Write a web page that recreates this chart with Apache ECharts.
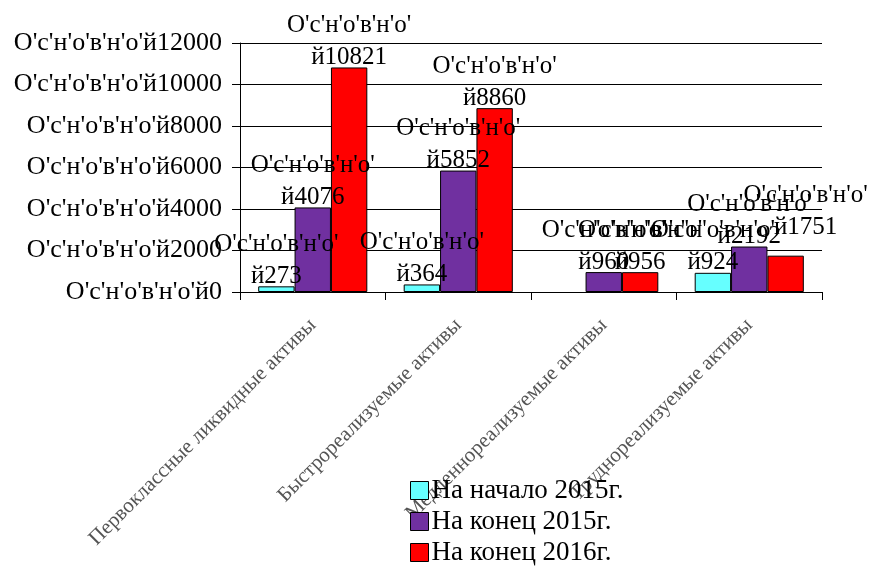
<!DOCTYPE html>
<html>
<head>
<meta charset="utf-8">
<script src="https://cdn.jsdelivr.net/npm/echarts@6/dist/echarts.min.js"></script>
<style>
html,body{margin:0;padding:0;background:#fff;}
#chart{width:872px;height:566px;}
</style>
</head>
<body>
<div id="chart"></div>
<script>
var categories = ['Первоклассные ликвидные активы', 'Быстрореализуемые активы', 'Медленнореализуемые активы', 'Труднореализуемые активы'];
var seriesNames = ['На начало 2015г.', 'На конец 2015г.', 'На конец 2016г.'];
var valuesStart2015 = [273, 364, '-', 924];
var valuesEnd2015 = [4076, 5852, 960, 2192];
var valuesEnd2016 = [10821, 8860, 956, 1751];
var seriesColors = ['#66FFFF', '#7030A0', '#FF0000'];
var yTicks = [0, 2000, 4000, 6000, 8000, 10000, 12000];
var prefix = "O'c'н'o'в'н'o'";

var FONT = '"Liberation Serif", "DejaVu Serif", serif';
var chart = echarts.init(document.getElementById('chart'));
var allValues = [valuesStart2015, valuesEnd2015, valuesEnd2016];
var series = allValues.map(function (vals, i) {
  var data = vals.map(function (v, j) {
    // the last red label in the reference is nudged up and right
    if (i === 2 && j === 3) {
      return { value: v, label: { offset: [20, -18] } };
    }
    return v;
  });
  return {
    name: seriesNames[i],
    type: 'bar',
    data: data,
    barGap: '0%',
    barCategoryGap: '25%',
    itemStyle: { color: seriesColors[i], borderColor: '#000', borderWidth: 1 },
    label: {
      show: true,
      position: 'top',
      distance: -6,
      fontFamily: FONT,
      fontSize: 25,
      lineHeight: 32,
      color: '#000',
      align: 'center',
      formatter: function (p) { return prefix + '\nй' + p.value; }
    },
    emphasis: { disabled: true }
  };
});
chart.setOption({
  animation: false,
  backgroundColor: '#fff',
  grid: { left: 240, right: 50, top: 43, bottom: 274, containLabel: false },
  legend: {
    orient: 'vertical',
    left: 410,
    top: 477,
    height: 89,
    padding: 0,
    itemWidth: 18,
    itemHeight: 18,
    itemGap: 4,
    icon: 'rect',
    data: seriesNames,
    textStyle: { fontFamily: FONT, fontSize: 27, color: '#000', padding: [0, 0, 0, -2] },
    itemStyle: { borderColor: '#000', borderWidth: 1 }
  },
  xAxis: {
    type: 'category',
    data: categories,
    axisLine: { lineStyle: { color: '#000', width: 1 } },
    axisTick: { show: true, length: 8, lineStyle: { color: '#000' } },
    axisLabel: {
      rotate: 45,
      margin: 30,
      interval: 0,
      fontFamily: FONT,
      fontSize: 21,
      color: '#555'
    }
  },
  yAxis: {
    type: 'value',
    min: 0,
    max: 12000,
    interval: 2000,
    axisLine: { show: true, lineStyle: { color: '#000', width: 1 } },
    axisTick: { show: true, length: 8, lineStyle: { color: '#000' } },
    splitLine: { show: true, lineStyle: { color: '#000', width: 1 } },
    axisLabel: {
      margin: 18,
      fontFamily: FONT,
      fontSize: 26,
      color: '#000',
      formatter: function (v) { return prefix + 'й' + v; }
    }
  },
  series: series
});
</script>
</body>
</html>
